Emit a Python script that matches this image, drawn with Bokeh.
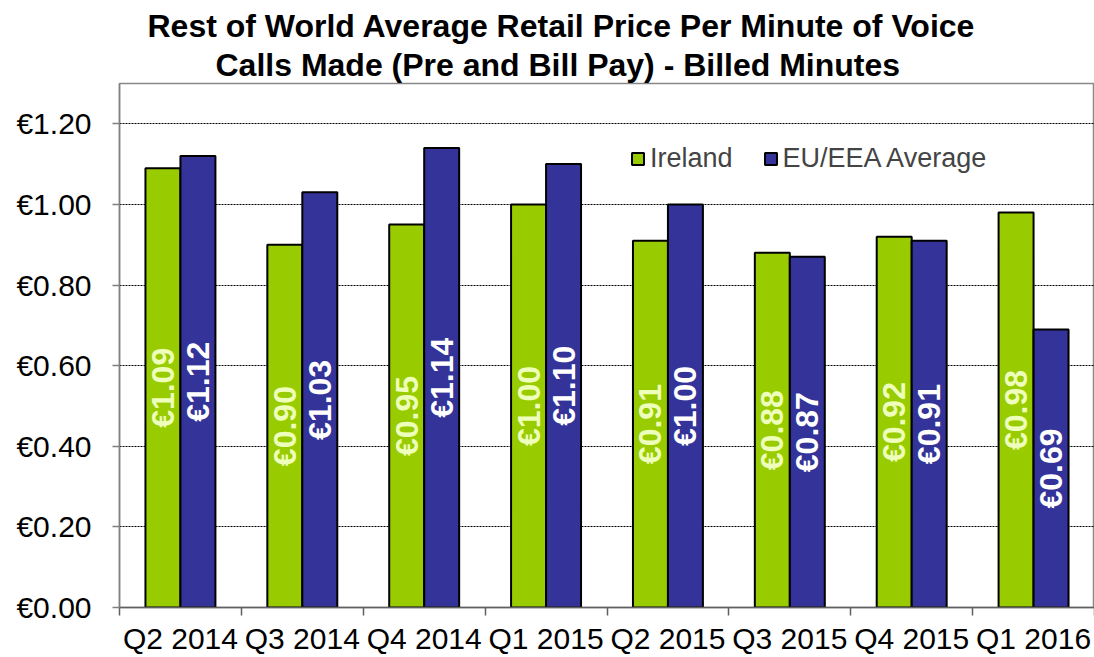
from bokeh.plotting import figure
from bokeh.models import (ColumnDataSource, Range1d, FixedTicker, PrintfTickFormatter,
                          Title, Legend, LegendItem)
from bokeh.core.properties import value
from bokeh.embed import file_html
from bokeh.resources import INLINE
import math

quarters = ["Q2 2014", "Q3 2014", "Q4 2014", "Q1 2015", "Q2 2015", "Q3 2015", "Q4 2015", "Q1 2016"]
ireland = [1.09, 0.90, 0.95, 1.00, 0.91, 0.88, 0.92, 0.98]
eu_eea = [1.12, 1.03, 1.14, 1.10, 1.00, 0.87, 0.91, 0.69]
y_ticks = [0.0, 0.2, 0.4, 0.6, 0.8, 1.0, 1.2]

FONT = "Liberation Sans"
GREEN = "#99cc00"
BLUE = "#333399"
BW = 0.287

centers = [i + 0.5 for i in range(len(quarters))]
src_ie = ColumnDataSource(dict(x=[c - BW / 2 for c in centers], top=ireland,
                               mid=[v / 2 for v in ireland],
                               lab=["€%.2f" % v for v in ireland]))
src_eu = ColumnDataSource(dict(x=[c + BW / 2 for c in centers], top=eu_eea,
                               mid=[v / 2 for v in eu_eea],
                               lab=["€%.2f" % v for v in eu_eea]))

p = figure(width=1094, height=657, output_backend="svg", toolbar_location=None,
           x_range=Range1d(0, len(quarters)), y_range=Range1d(0, 1.3),
           min_border_left=119, min_border_right=0, min_border_top=83, min_border_bottom=10)
p.background_fill_color = "white"
p.border_fill_color = "white"
p.outline_line_color = "#888888"
p.outline_line_width = 1.5

r_ie = p.vbar(x="x", top="top", width=BW, bottom=0, source=src_ie,
              fill_color=GREEN, line_color="black", line_width=2)
r_eu = p.vbar(x="x", top="top", width=BW, bottom=0, source=src_eu,
              fill_color=BLUE, line_color="black", line_width=2)

p.text(x="x", y="mid", text="lab", source=src_ie, angle=math.pi / 2,
       text_align="center", text_baseline="middle", text_color="#eeffbb",
       text_font=value(FONT), text_font_size="32px", text_font_style="bold")
p.text(x="x", y="mid", text="lab", source=src_eu, angle=math.pi / 2,
       text_align="center", text_baseline="middle", text_color="white",
       text_font=value(FONT), text_font_size="32px", text_font_style="bold")

# axes
p.xgrid.visible = False
p.ygrid.grid_line_color = "black"
p.ygrid.grid_line_dash = "2 1"
p.ygrid.grid_line_width = 1
p.yaxis.ticker = FixedTicker(ticks=y_ticks)
p.yaxis.formatter = PrintfTickFormatter(format="€%.2f")
p.yaxis.major_label_text_font = FONT
p.yaxis.major_label_text_font_size = "30px"
p.yaxis.major_label_text_color = "black"
p.yaxis.axis_line_color = "#808080"
p.yaxis.axis_line_width = 1.5
p.yaxis.major_tick_line_color = "#808080"
p.yaxis.major_tick_line_width = 1.5
p.yaxis.major_tick_in = 0
p.yaxis.major_tick_out = 7
p.yaxis.minor_tick_line_color = None
p.yaxis.major_label_standoff = 21

p.xaxis.ticker = FixedTicker(ticks=centers, minor_ticks=list(range(len(quarters) + 1)))
p.xaxis.major_label_overrides = {c: q for c, q in zip(centers, quarters)}
p.xaxis.major_label_text_font = FONT
p.xaxis.major_label_text_font_size = "30px"
p.xaxis.major_label_text_color = "black"
p.xaxis.axis_line_color = "#606060"
p.xaxis.axis_line_width = 1.5
p.xaxis.major_tick_line_color = None
p.xaxis.major_tick_in = 0
p.xaxis.major_tick_out = 0
p.xaxis.minor_tick_line_color = "#606060"
p.xaxis.minor_tick_line_width = 1.5
p.xaxis.minor_tick_in = 0
p.xaxis.minor_tick_out = 8
p.xaxis.major_label_standoff = 6

# title (two lines)
t2 = Title(text="Calls Made (Pre and Bill Pay) - Billed Minutes", align="left",
           text_font=FONT, text_font_size="32px", text_font_style="bold",
           text_color="black", offset=96, standoff=2)
t1 = Title(text="Rest of World Average Retail Price Per Minute of Voice", align="left",
           text_font=FONT, text_font_size="32px", text_font_style="bold",
           text_color="black", offset=28, standoff=0)
p.add_layout(t2, "above")
p.add_layout(t1, "above")

legend = Legend(items=[LegendItem(label="Ireland", renderers=[r_ie]),
                       LegendItem(label="EU/EEA Average", renderers=[r_eu])],
                orientation="horizontal", location=(511, 433),
                glyph_width=15, glyph_height=15, label_standoff=5, spacing=30,
                padding=0, margin=0, label_height=30,
                label_text_font=FONT, label_text_font_size="27px",
                background_fill_alpha=0, border_line_color=None)
p.add_layout(legend, "center")

open("out.html", "w").write(file_html(p, INLINE))
